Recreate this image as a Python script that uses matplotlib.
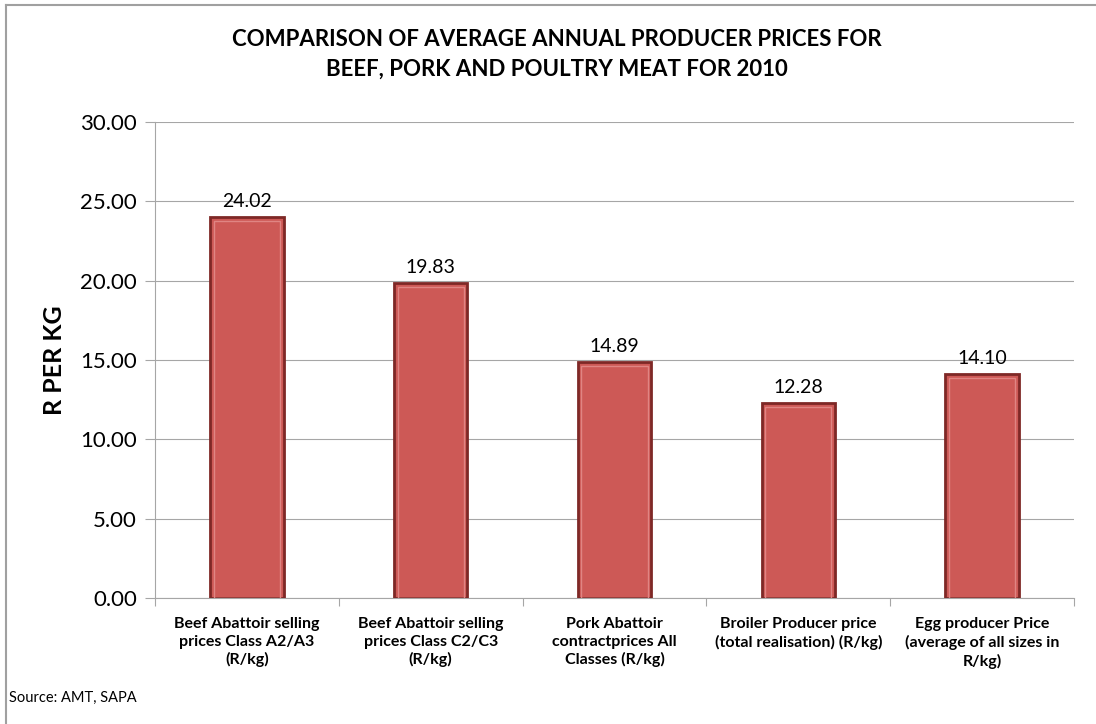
import numpy as np
import matplotlib.pyplot as plt
from matplotlib.lines import Line2D

plt.rcParams['font.family'] = ['Lato', 'DejaVu Sans']

# data
categories = ["Beef Abattoir selling\nprices Class A2/A3\n(R/kg)",
              "Beef Abattoir selling\nprices Class C2/C3\n(R/kg)",
              "Pork Abattoir\ncontractprices All\nClasses (R/kg)",
              "Broiler Producer price\n(total realisation) (R/kg)",
              "Egg producer Price\n(average of all sizes in\nR/kg)"]
prices = [24.02, 19.83, 14.89, 12.28, 14.10]
yticks = [0, 5, 10, 15, 20, 25, 30]

fig = plt.figure(figsize=(10.96, 7.24), dpi=100)
ax = fig.add_axes([155 / 1096, 1 - 598 / 724, (1074 - 155) / 1096, (598 - 122) / 724])

x = np.arange(len(prices))
# bars with a darker rim to hint at the bevel
ax.bar(x, prices, width=0.4, color='#CD5956', edgecolor='#7E2826', linewidth=2, zorder=3)
ax.bar(x, [p - 0.25 for p in prices], bottom=0, width=0.36, color='none',
       edgecolor='#E08583', linewidth=1, zorder=4)

# data labels
for xi, v in zip(x, prices):
    ax.text(xi, v + 0.45, f"{v:.2f}", ha='center', va='bottom', fontsize=14, color='black')

ax.set_xlim(-0.5, len(prices) - 0.5)
ax.set_ylim(0, 30)
ax.set_yticks(yticks)
ax.set_yticklabels([f"{t:.2f}" for t in yticks], fontsize=16)
ax.yaxis.grid(True, color='#A6A6A6', linewidth=0.8, zorder=0)
ax.set_ylabel("R PER KG", fontsize=18, fontweight='bold', labelpad=10)

# category ticks between bars, labels at centers
ax.set_xticks(np.arange(-0.5, len(prices), 1.0))
ax.set_xticklabels([])
ax.set_xticks(x, minor=True)
ax.set_xticklabels(categories, minor=True, fontsize=11.5, fontweight='bold', linespacing=1.3)
ax.tick_params(axis='x', which='minor', length=0, pad=14)
ax.tick_params(axis='x', which='major', length=6, color='#A6A6A6')
ax.tick_params(axis='y', length=7, color='#A6A6A6', pad=6)

for side in ['top', 'right']:
    ax.spines[side].set_visible(False)
for side in ['left', 'bottom']:
    ax.spines[side].set_color('#A6A6A6')

fig.text(557 / 1096, 1 - 54 / 724, "COMPARISON OF AVERAGE ANNUAL PRODUCER PRICES FOR\nBEEF, PORK AND POULTRY MEAT FOR 2010",
         ha='center', va='center', fontsize=16, fontweight='bold', linespacing=1.5)
fig.text(9 / 1096, 1 - 698 / 724, "Source: AMT, SAPA", ha='left', va='center', fontsize=10.5)

# outer frame (top and left only visible)
fig.add_artist(Line2D([6 / 1096, 1], [1 - 5 / 724, 1 - 5 / 724], color='#A0A0A0', linewidth=1.5, transform=fig.transFigure))
fig.add_artist(Line2D([6 / 1096, 6 / 1096], [0, 1 - 5 / 724], color='#A0A0A0', linewidth=1.5, transform=fig.transFigure))

fig.savefig("out.png", dpi=100)
